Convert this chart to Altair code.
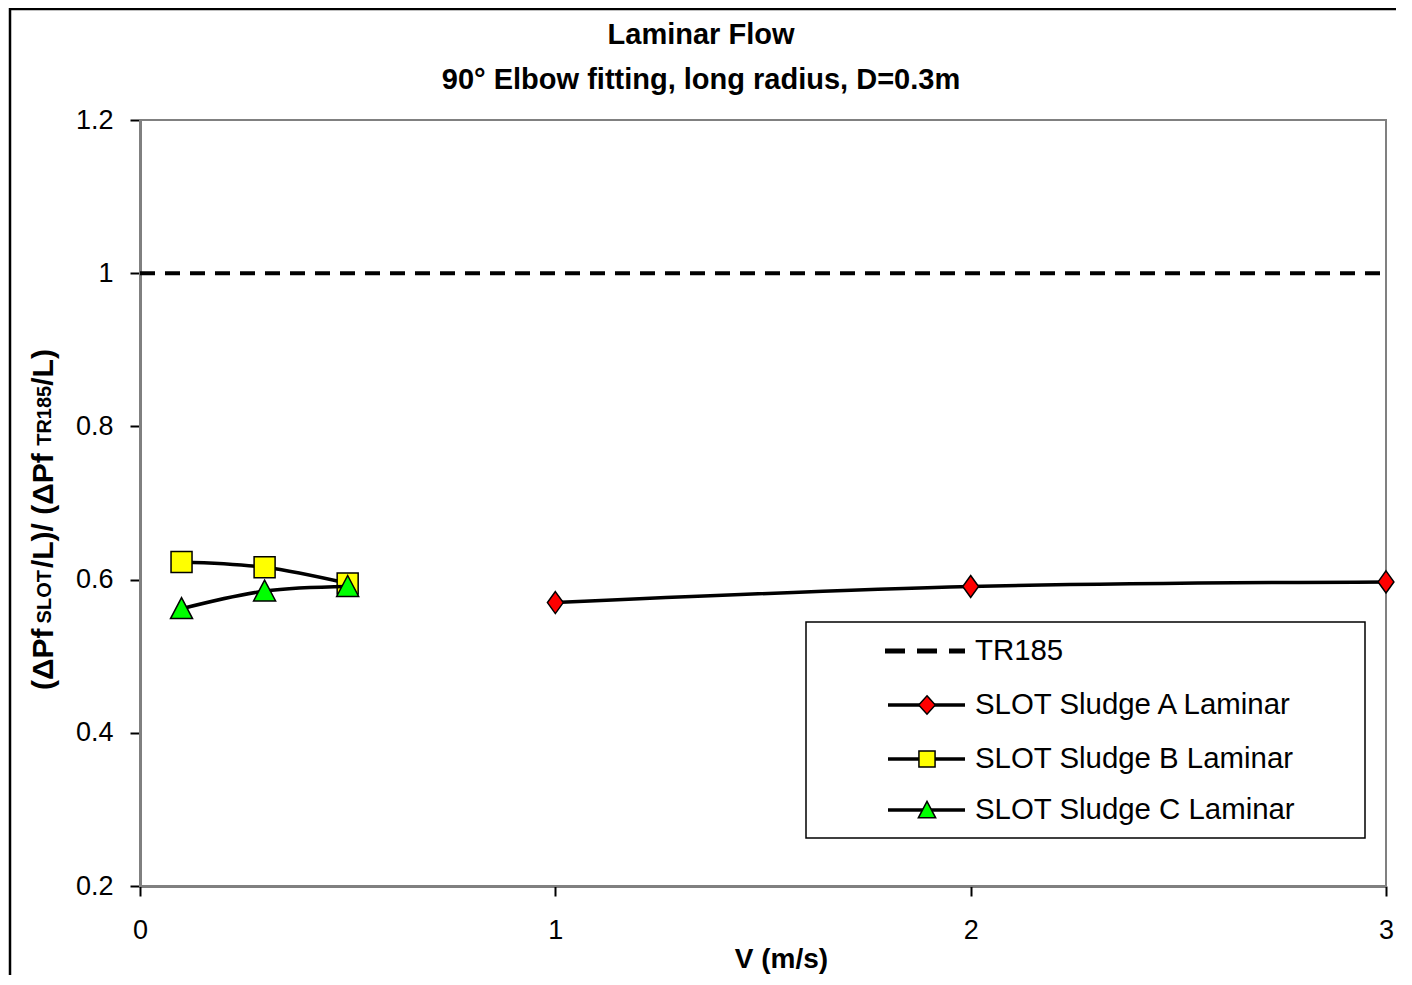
import altair as alt
import pandas as pd

# ---- data ----
v_A = [1, 2, 3]
r_A = [0.570, 0.591, 0.597]
v_B = [0.1, 0.3, 0.5]
r_B = [0.623, 0.616, 0.595]
v_C = [0.1, 0.3, 0.5]
r_C = [0.562, 0.585, 0.591]
v_TR = [0, 3]
r_TR = [1.0, 1.0]
y_ticks = [0.2, 0.4, 0.6, 0.8, 1.0, 1.2]
x_ticks = [0, 1, 2, 3]
legend_labels = ["TR185", "SLOT Sludge A Laminar", "SLOT Sludge B Laminar", "SLOT Sludge C Laminar"]
title_line1 = "Laminar Flow"
title_line2 = "90° Elbow fitting, long radius, D=0.3m"

FONT = "Liberation Sans"
W, H = 1246, 766
DIAMOND = "M0,-1L0.72,0L0,1L-0.72,0Z"
DIAMOND_LEG = "M0,-1L0.9,0L0,1L-0.9,0Z"
TRIANGLE = "M0,-1L1,0.9L-1,0.9Z"

def df(v, r):
    return pd.DataFrame({"v": v, "r": r})

xs = alt.Scale(domain=[0, 3], nice=False, zero=False)
ys = alt.Scale(domain=[0.2, 1.2], nice=False, zero=False)

x_enc = alt.X("v:Q", scale=xs, axis=alt.Axis(
    values=x_ticks, format="d", title="V (m/s)", titleFontSize=28, titleFontWeight="bold",
    titleFont=FONT, titleColor="black", titleX=641, titleY=73, titleAlign="center",
    titleBaseline="middle", labelFontSize=27, labelFont=FONT, labelColor="black",
    labelPadding=21, labelFlush=False, tickSize=10, tickWidth=2, tickColor="black",
    domainColor="black", domainWidth=2, grid=False))
y_enc = alt.Y("r:Q", scale=ys, axis=alt.Axis(
    values=y_ticks, format="~g", title=None, labelFontSize=27, labelFont=FONT,
    labelColor="black", labelPadding=17, labelFlush=False, tickSize=10, tickWidth=2,
    tickColor="black", domainColor="black", domainWidth=2, grid=False))

one = pd.DataFrame({"a": [0]})
layers = []

# outer chart border
layers.append(alt.Chart(one).mark_rect(fillOpacity=0, stroke="black", strokeWidth=2.5).encode(
    x=alt.value(-130), x2=alt.value(W + 60), y=alt.value(-111), y2=alt.value(H + 200)))
# plot-area border (gray)
layers.append(alt.Chart(one).mark_rect(fillOpacity=0, stroke="#808080", strokeWidth=2).encode(
    x=alt.value(0), x2=alt.value(W), y=alt.value(0), y2=alt.value(H)))

# TR185 dashed
layers.append(alt.Chart(df(v_TR, r_TR)).mark_line(color="black", strokeWidth=4, strokeDash=[15, 10]).encode(
    x=x_enc, y=y_enc))

series = [
    (v_A, r_A, DIAMOND, "#FF0000", 484),
    (v_B, r_B, "square", "#FFFF00", 441),
    (v_C, r_C, TRIANGLE, "#00FF00", 484),
]
for v, r, shp, col, sz in series:
    d = df(v, r)
    layers.append(alt.Chart(d).mark_line(color="black", strokeWidth=3.5, interpolate="catmull-rom").encode(
        x=alt.X("v:Q", scale=xs), y=alt.Y("r:Q", scale=ys)))
    layers.append(alt.Chart(d).mark_point(shape=shp, filled=True, fill=col, stroke="black",
                                          strokeWidth=1.5, size=sz, opacity=1).encode(
        x=alt.X("v:Q", scale=xs), y=alt.Y("r:Q", scale=ys)))

# titles
layers.append(alt.Chart(one).mark_text(text=title_line1, font=FONT, fontSize=29, fontWeight="bold",
                                       align="center", baseline="middle", color="black").encode(
    x=alt.value(561), y=alt.value(-85)))
layers.append(alt.Chart(one).mark_text(text=title_line2, font=FONT, fontSize=29, fontWeight="bold",
                                       align="center", baseline="middle", color="black").encode(
    x=alt.value(561), y=alt.value(-40)))

# y title pieces (rotated, with subscripts)
WID = {"(": .333, ")": .333, "Δ": .72, "P": .667, "f": .333, " ": .278, "S": .667, "L": .611,
       "O": .778, "T": .611, "/": .278, "R": .722, "1": .556, "8": .556, "5": .556}
ypieces = [("(ΔPf", 30, 5, -87), ("SLOT", 20, 2, -89), (" /L)/ (ΔPf", 30, -1, -87),
           ("TR185", 20, 0, -89), ("/L)", 30, 0, -87)]
pos = 690 - 120
for txt, fs, gap, xx in ypieces:
    layers.append(alt.Chart(one).mark_text(text=txt, font=FONT, fontSize=fs, fontWeight="bold",
                                           angle=270, align="left", baseline="alphabetic",
                                           color="black").encode(
        x=alt.value(xx), y=alt.value(pos)))
    pos -= sum(WID[c] for c in txt) * fs + gap

# legend
layers.append(alt.Chart(one).mark_rect(fill="white", stroke="black", strokeWidth=1.5).encode(
    x=alt.value(666), x2=alt.value(1225), y=alt.value(502), y2=alt.value(718)))
rows = [531, 585, 639, 690]
layers.append(alt.Chart(one).mark_rule(color="black", strokeWidth=5, strokeDash=[20, 12]).encode(
    x=alt.value(745), x2=alt.value(825), y=alt.value(rows[0])))
leg_marks = [(DIAMOND_LEG, "#FF0000", 340), ("square", "#FFFF00", 260), (TRIANGLE, "#00FF00", 300)]
for (shp, col, sz), yy in zip(leg_marks, rows[1:]):
    layers.append(alt.Chart(one).mark_rule(color="black", strokeWidth=3.5).encode(
        x=alt.value(748), x2=alt.value(825), y=alt.value(yy)))
    layers.append(alt.Chart(one).mark_point(shape=shp, filled=True, fill=col, stroke="black",
                                            strokeWidth=1.5, size=sz, opacity=1).encode(
        x=alt.value(787), y=alt.value(yy)))
for lab, yy in zip(legend_labels, rows):
    layers.append(alt.Chart(one).mark_text(text=lab, font=FONT, fontSize=29.4, align="left",
                                           baseline="middle", color="black").encode(
        x=alt.value(835), y=alt.value(yy)))

base = alt.Chart(df(v_TR, r_TR)).mark_point(opacity=0).encode(x=x_enc, y=y_enc)

chart = alt.layer(base, *layers).properties(
    width=W, height=H,
    autosize=alt.AutoSizeParams(type="none"),
    padding={"left": 132, "top": 112, "right": 10, "bottom": 89},
).configure_view(strokeWidth=0).configure(background="white")

chart.save("out.html", embed_options={"renderer": "svg", "actions": False})
